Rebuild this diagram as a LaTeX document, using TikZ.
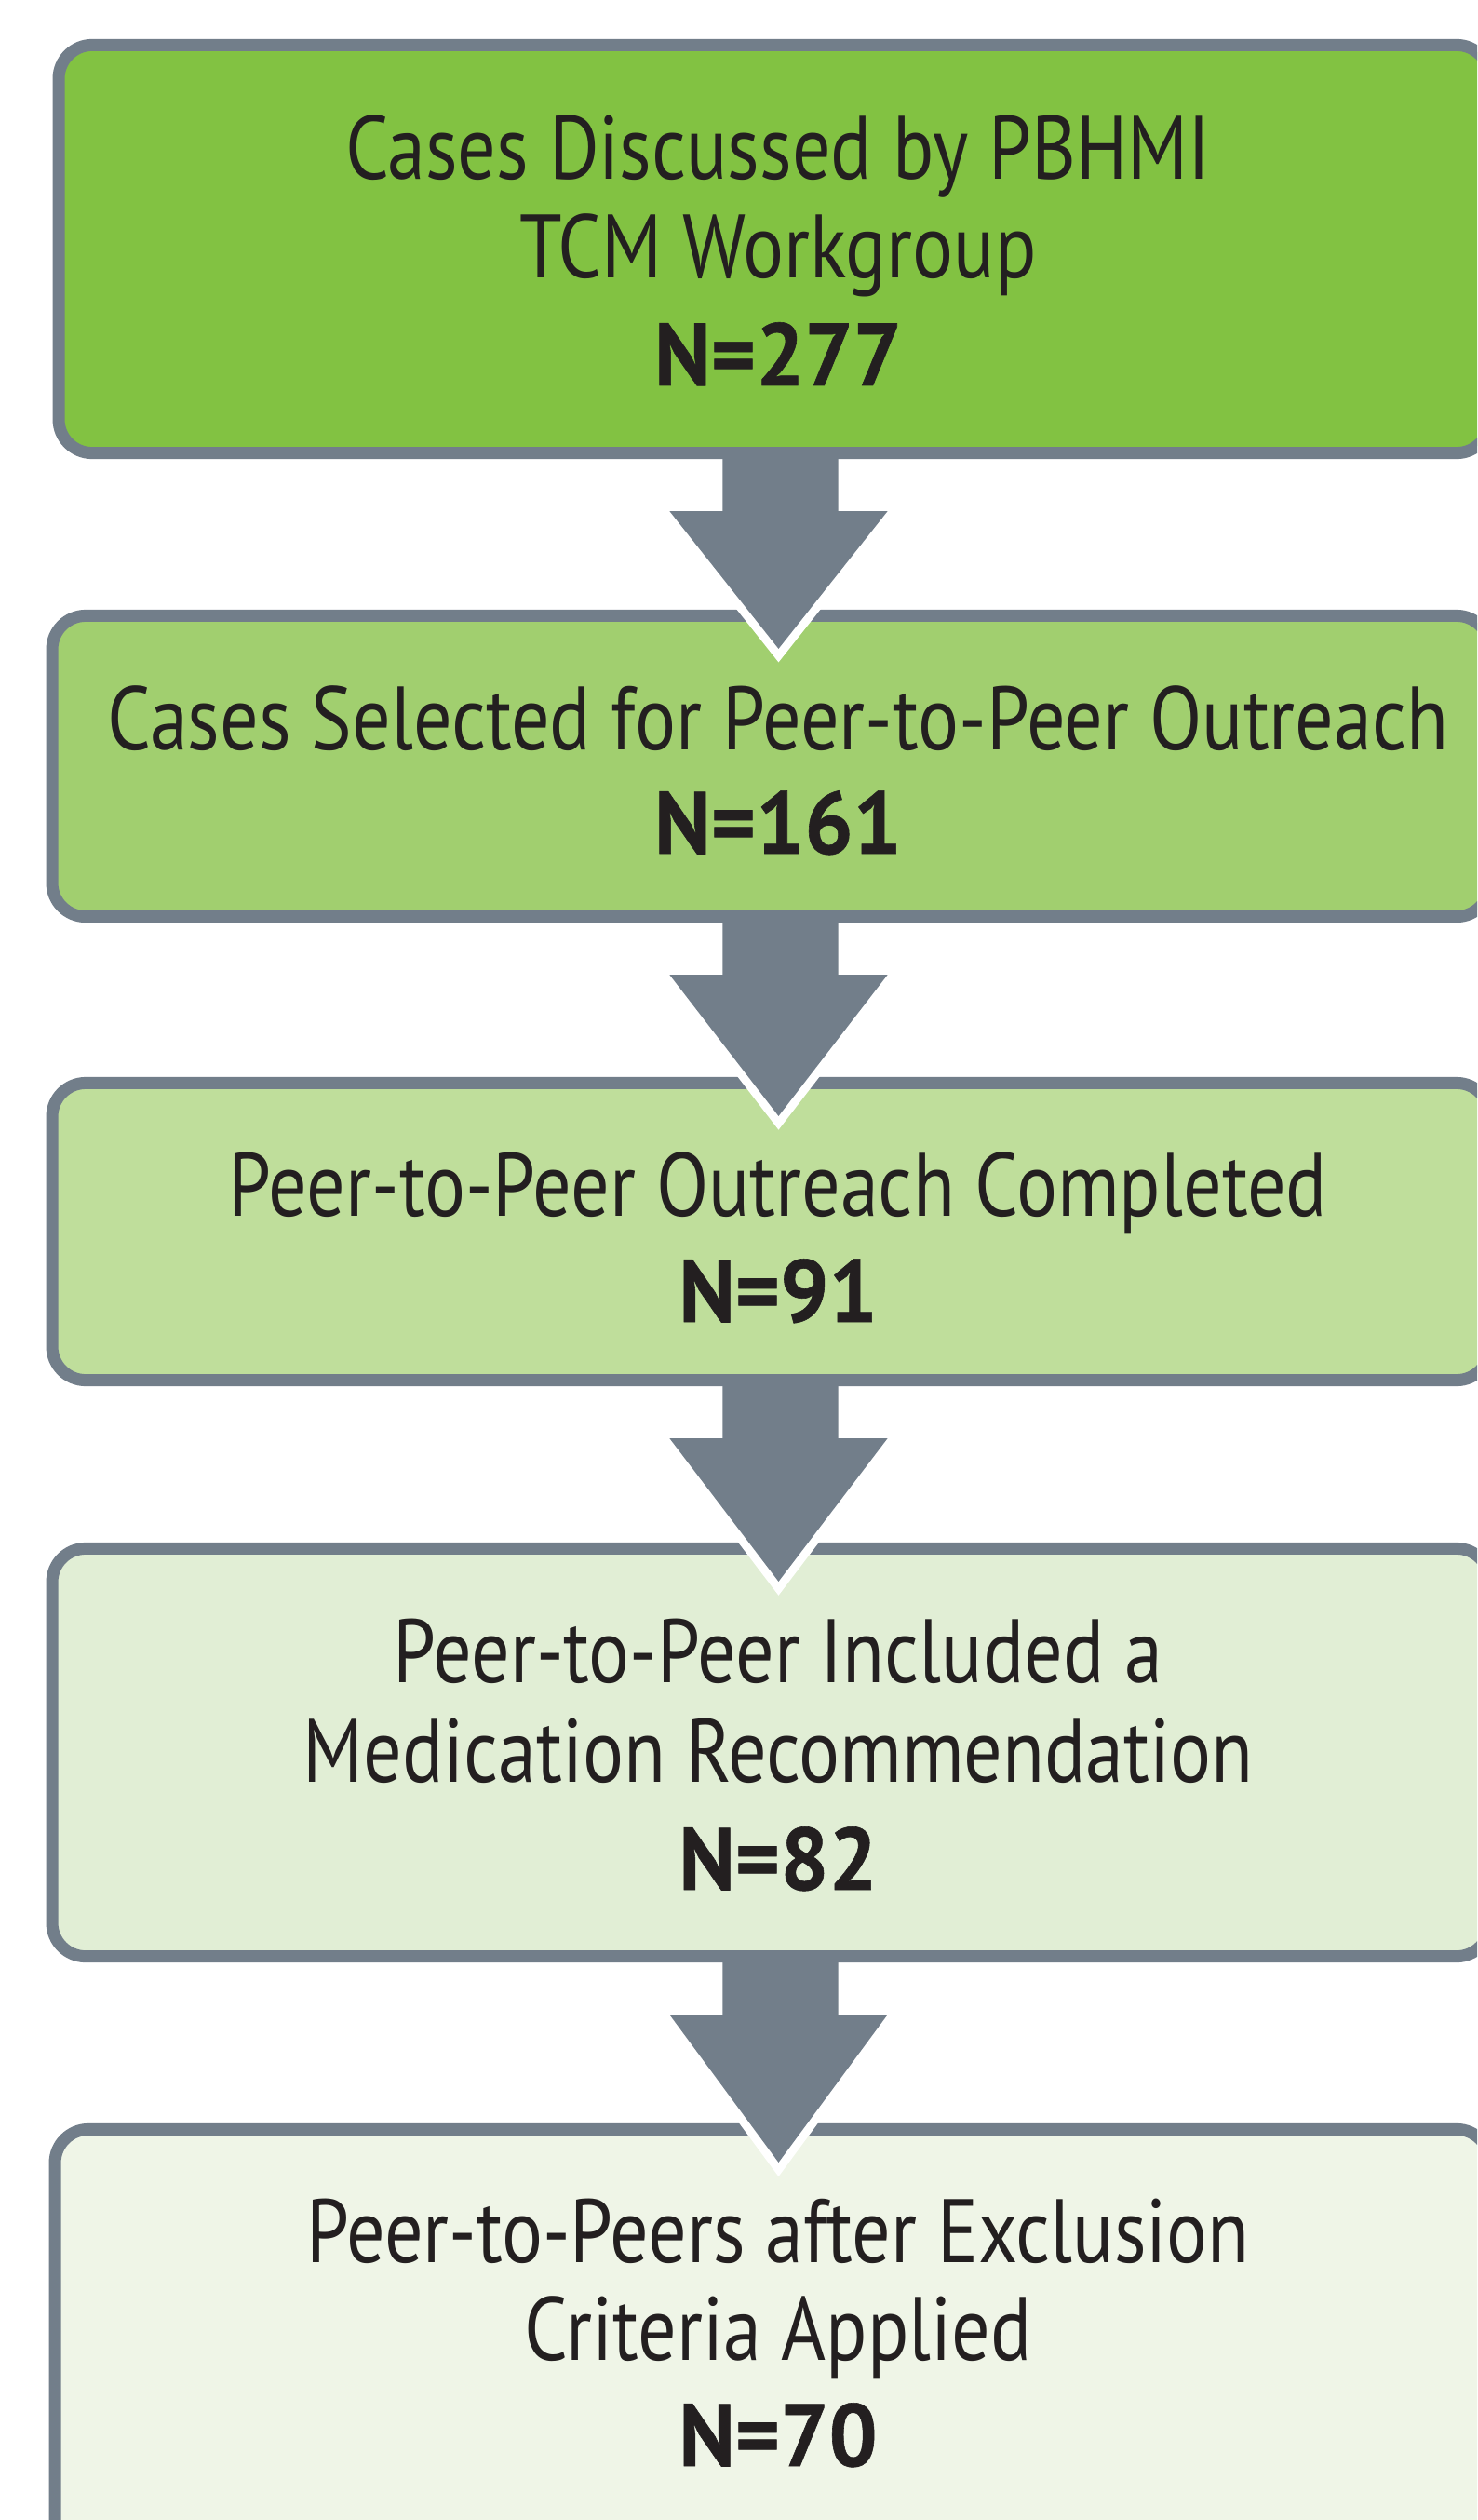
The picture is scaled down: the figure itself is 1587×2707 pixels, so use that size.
\documentclass[tikz,border=0pt]{standalone}
\usepackage{fontspec}
\usetikzlibrary{calc}
\newfontfamily\boxfont{PT Sans}[FakeStretch=0.85]
\newfontfamily\numfont{PT Sans Bold}[FakeStretch=0.97, FakeBold=0.6]
\definecolor{c1}{HTML}{82C242}
\definecolor{c2}{HTML}{A1CF6F}
\definecolor{c3}{HTML}{BFDE9B}
\definecolor{c4}{HTML}{E1EED5}
\definecolor{c5}{HTML}{EFF5E7}
\definecolor{edgegray}{HTML}{727E8A}
\definecolor{ink}{HTML}{231F20}
\tikzset{
  flowbox/.style={draw=edgegray, line width=0.13cm, rounded corners=0.36cm,
    rectangle, inner sep=0pt, minimum width=15.37cm},
  txt/.style={anchor=base, inner sep=0pt, text=ink, font=\boxfont\fontsize{27.5}{30}\selectfont},
  num/.style={txt, font=\numfont\fontsize{27}{30}\selectfont},
  arrowedge/.style={draw=white, line width=0.18cm, line join=miter},
  arrowfill/.style={fill=edgegray}
}
\newcommand\flowarrow[2]{%
  \draw[arrowedge] let \p1=(#1.south), \p2=(#2.north) in
    (7.19cm,\y1-0.56cm) -- (8.36cm,\y2-0.42cm) -- (9.53cm,\y1-0.56cm);
  \fill[arrowfill] let \p1=(#1.south), \p2=(#2.north) in
    (7.76cm,\y1+0.13cm) -- (7.76cm,\y1-0.56cm) -- (7.19cm,\y1-0.56cm)
    -- (8.36cm,\y2-0.42cm) -- (9.53cm,\y1-0.56cm) -- (9.00cm,\y1-0.56cm)
    -- (9.00cm,\y1+0.13cm) -- cycle;
}
\begin{document}
\begin{tikzpicture}[x=0.01cm, y=-0.01cm]
\path[use as bounding box, clip] (0,0) rectangle (1587,2707);
\fill[white] (0,0) rectangle (1587,2707);
% boxes
\node[flowbox, fill=c1, minimum width=15.37cm, minimum height=4.38cm] (b1) at (832,267.5) {};
\node[flowbox, fill=c2, minimum width=15.44cm, minimum height=3.23cm] (b2) at (828.5,823) {};
\node[flowbox, fill=c3, minimum width=15.44cm, minimum height=3.19cm] (b3) at (828.5,1323) {};
\node[flowbox, fill=c4, minimum width=15.44cm, minimum height=4.38cm] (b4) at (828.5,1882.5) {};
\node[flowbox, fill=c5, minimum width=15.41cm, minimum height=4.56cm] (b5) at (830,2515.5) {};
% arrows
\flowarrow{b1}{b2}
\flowarrow{b2}{b3}
\flowarrow{b3}{b4}
\flowarrow{b4}{b5}
% texts
\node[txt] (t1a) at (836,193) {Cases Discussed by PBHMI};
\node[txt] (t1b) at (836,299) {TCM Workgroup};
\node[num] (t1c) at (836,414) {N=277};
\node[txt] (t2a) at (836,805) {Cases Selected for Peer-to-Peer Outreach};
\node[num] (t2b) at (836,917) {N=161};
\node[txt] (t3a) at (836,1306) {Peer-to-Peer Outreach Completed};
\node[num] (t3b) at (836,1420) {N=91};
\node[txt] (t4a) at (836,1807) {Peer-to-Peer Included a};
\node[txt] (t4b) at (836,1914) {Medication Recommendation};
\node[num] (t4c) at (836,2030) {N=82};
\node[txt] (t5a) at (836,2430) {Peer-to-Peers after Exclusion};
\node[txt] (t5b) at (836,2535) {Criteria Applied};
\node[num] (t5c) at (836,2649) {N=70};
\end{tikzpicture}
\end{document}
